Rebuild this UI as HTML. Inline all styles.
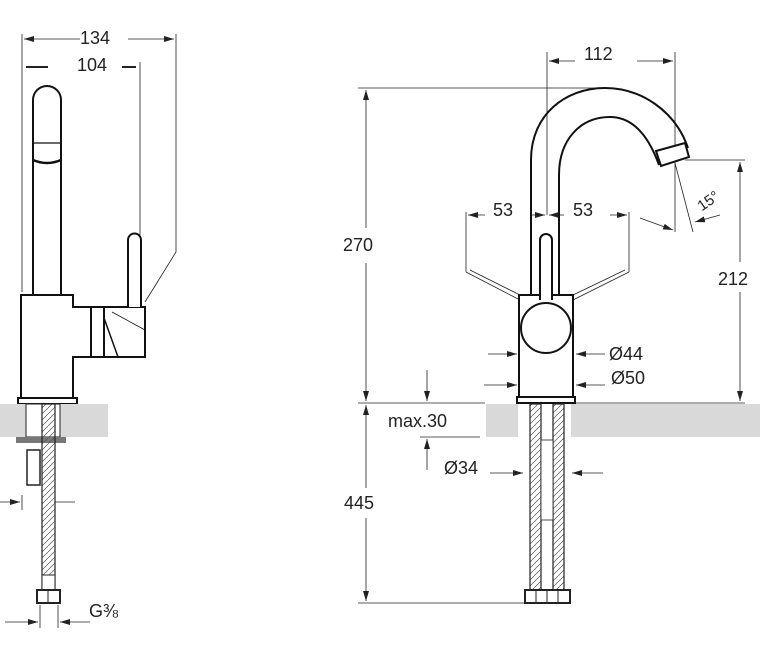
<!DOCTYPE html>
<html><head><meta charset="utf-8"><style>
html,body{margin:0;padding:0;background:#fff;}
svg{display:block}
text{font-family:"Liberation Sans",sans-serif;fill:#222;}
</style></head><body>
<svg width="760" height="648" viewBox="0 0 760 648" xmlns="http://www.w3.org/2000/svg">
<defs>
<marker id="a" viewBox="0 0 10 6" refX="10" refY="3" markerWidth="10" markerHeight="6" orient="auto-start-reverse" markerUnits="userSpaceOnUse"><path d="M0,0 L10,3 L0,6z" fill="#222"/></marker>
<pattern id="h" width="6" height="6" patternUnits="userSpaceOnUse"><path d="M0,6 L6,0" stroke="#555" stroke-width="0.7"/></pattern>
</defs>
<g stroke="#222" fill="none" stroke-width="0.8">
<line x1="22" y1="34" x2="22" y2="292"/>
<path d="M176 34 L176 252 L145 302"/>
<line x1="140" y1="62" x2="140" y2="235"/>
<line x1="24" y1="39" x2="80" y2="39" marker-start="url(#a)"/>
<line x1="128" y1="39" x2="174" y2="39" marker-end="url(#a)"/>
<line x1="26" y1="67" x2="48" y2="67" stroke-width="2"/>
<line x1="122" y1="67" x2="136" y2="67" stroke-width="2"/>
<line x1="0" y1="502" x2="20" y2="502" marker-end="url(#a)"/>
<line x1="22" y1="495" x2="22" y2="510"/>
<line x1="55" y1="502" x2="75" y2="502"/>
<line x1="40" y1="605" x2="40" y2="628"/><line x1="58" y1="605" x2="58" y2="628"/>
<line x1="5" y1="622" x2="38" y2="622" marker-end="url(#a)"/>
<line x1="90" y1="622" x2="60" y2="622" marker-end="url(#a)"/>
</g>
<g stroke="#111" fill="none" stroke-width="2">
<path d="M33 295 L33 100 A14 14 0 0 1 61 100 L61 295"/>
<line x1="33" y1="143" x2="61" y2="143" stroke-width="1.2"/>
<path d="M33 160 Q47 166 61 160" stroke-width="2.5"/>
<path d="M21 398 L21 295 L73 295 L73 307 L145 307 L145 357 L73 357 L73 398 Z" fill="#fff"/>
<path d="M91 307 L91 357 M104 307 L104 357"/>
<path d="M104 318 L118 357" stroke-width="1.5"/>
<path d="M128 307 L128 240 A6 6 0 0 1 141 240 L141 307" fill="#fff"/>
<line x1="112" y1="312" x2="145" y2="330" stroke-width="0.8"/>
<rect x="18" y="398" width="59" height="6" fill="#fff"/>
</g>
<rect x="0" y="404" width="108" height="33" fill="#d9d9d9"/>
<rect x="26" y="404" width="34" height="33" fill="#fff" stroke="#222"/>
<rect x="16" y="437" width="50" height="6" fill="#777"/>
<rect x="42" y="404" width="13" height="186" fill="url(#h)" stroke="#222" stroke-width="1.2"/>
<rect x="27" y="450" width="13" height="35" fill="#fff" stroke="#222" stroke-width="1.5"/>
<rect x="42" y="575" width="13" height="15" fill="#fff" stroke="#222"/>
<rect x="37" y="590" width="23" height="13" fill="#fff" stroke="#222" stroke-width="2"/>
<line x1="48" y1="590" x2="48" y2="603" stroke="#222"/>
<text x="77" y="71" font-size="18">104</text>
<text x="80" y="44" font-size="18">134</text>
<text x="89" y="617" font-size="18">G⅜</text>

<g stroke="#222" fill="none" stroke-width="0.8">
<line x1="547" y1="52" x2="547" y2="215"/>
<line x1="675" y1="52" x2="675" y2="232"/>
<line x1="549" y1="61" x2="575" y2="61" marker-start="url(#a)"/>
<line x1="637" y1="61" x2="673" y2="61" marker-end="url(#a)"/>
<line x1="358" y1="88" x2="600" y2="88"/>
<line x1="366" y1="90" x2="366" y2="228" marker-start="url(#a)"/>
<line x1="366" y1="263" x2="366" y2="401" marker-end="url(#a)"/>
<line x1="685" y1="160" x2="745" y2="160"/>
<line x1="740" y1="162" x2="740" y2="262" marker-start="url(#a)"/>
<line x1="740" y1="292" x2="740" y2="401" marker-end="url(#a)"/>
<line x1="358" y1="403" x2="485" y2="403"/>
<line x1="575" y1="403" x2="745" y2="403"/>
<line x1="466" y1="212" x2="466" y2="272"/>
<line x1="629" y1="212" x2="629" y2="272"/>
<line x1="468" y1="215" x2="485" y2="215" marker-start="url(#a)"/>
<line x1="530" y1="215" x2="545" y2="215" marker-end="url(#a)"/>
<line x1="564" y1="215" x2="549" y2="215" marker-end="url(#a)"/>
<line x1="610" y1="215" x2="627" y2="215" marker-end="url(#a)"/>
<path d="M466 272 L520 300 M470 270 L520 295 M629 272 L573 300 M625 270 L573 295"/>
<line x1="675" y1="163" x2="693" y2="232"/>
<line x1="640" y1="218" x2="673" y2="230" marker-end="url(#a)"/>
<line x1="720" y1="215" x2="695" y2="222" marker-end="url(#a)"/>
<line x1="488" y1="354" x2="517" y2="354" marker-end="url(#a)"/>
<line x1="605" y1="354" x2="576" y2="354" marker-end="url(#a)"/>
<line x1="484" y1="385" x2="517" y2="385" marker-end="url(#a)"/>
<line x1="605" y1="385" x2="576" y2="385" marker-end="url(#a)"/>
<line x1="427" y1="370" x2="427" y2="401" marker-end="url(#a)"/>
<line x1="420" y1="437" x2="480" y2="437"/>
<line x1="427" y1="470" x2="427" y2="439" marker-end="url(#a)"/>
<line x1="366" y1="405" x2="366" y2="488" marker-start="url(#a)"/>
<line x1="366" y1="518" x2="366" y2="601" marker-end="url(#a)"/>
<line x1="358" y1="603" x2="525" y2="603"/>
<line x1="490" y1="473" x2="523" y2="473" marker-end="url(#a)"/>
<line x1="603" y1="473" x2="572" y2="473" marker-end="url(#a)"/>
</g>
<rect x="486" y="404" width="32" height="33" fill="#d9d9d9"/>
<rect x="571" y="404" width="189" height="33" fill="#d9d9d9"/>
<g stroke="#111" fill="none" stroke-width="2">
<path d="M531 295 L531 160 C531 115 565 88 605 88 C640 88 675 110 688 148"/>
<path d="M559 295 L559 175 C559 140 580 117 610 117 C635 117 650 140 659 165"/>
<path d="M656 151 L685 143 L689 157 L661 166 Z" fill="#fff"/>
<rect x="519" y="295" width="54" height="102" fill="#fff"/>
<path d="M540 300 L540 240 A6 6 0 0 1 552 240 L552 300" fill="#fff"/>
<circle cx="546" cy="328" r="25" fill="#fff"/>
<rect x="517" y="397" width="58" height="6" fill="#fff"/>
</g>
<rect x="530" y="404" width="11" height="186" fill="url(#h)" stroke="#222" stroke-width="1.2"/>
<rect x="553" y="404" width="11" height="186" fill="url(#h)" stroke="#222" stroke-width="1.2"/>
<rect x="541" y="440" width="12" height="80" fill="#fff" stroke="#222" stroke-width="0.8"/>
<rect x="525" y="590" width="45" height="13" fill="#fff" stroke="#222" stroke-width="2"/>
<path d="M536 590 V603 M547 590 V603 M558 590 V603" stroke="#222"/>
<text x="584" y="60" font-size="18">112</text>
<text x="343" y="251" font-size="18">270</text>
<text x="718" y="285" font-size="18">212</text>
<text x="493" y="216" font-size="18">53</text>
<text x="573" y="216" font-size="18">53</text>
<text x="697" y="208" font-size="15" transform="rotate(-35 705 202)">15°</text>
<text x="609" y="360" font-size="18">Ø44</text>
<text x="611" y="384" font-size="18">Ø50</text>
<text x="388" y="427" font-size="18">max.30</text>
<text x="444" y="474" font-size="18">Ø34</text>
<text x="344" y="509" font-size="18">445</text>
</svg>
</body></html>
